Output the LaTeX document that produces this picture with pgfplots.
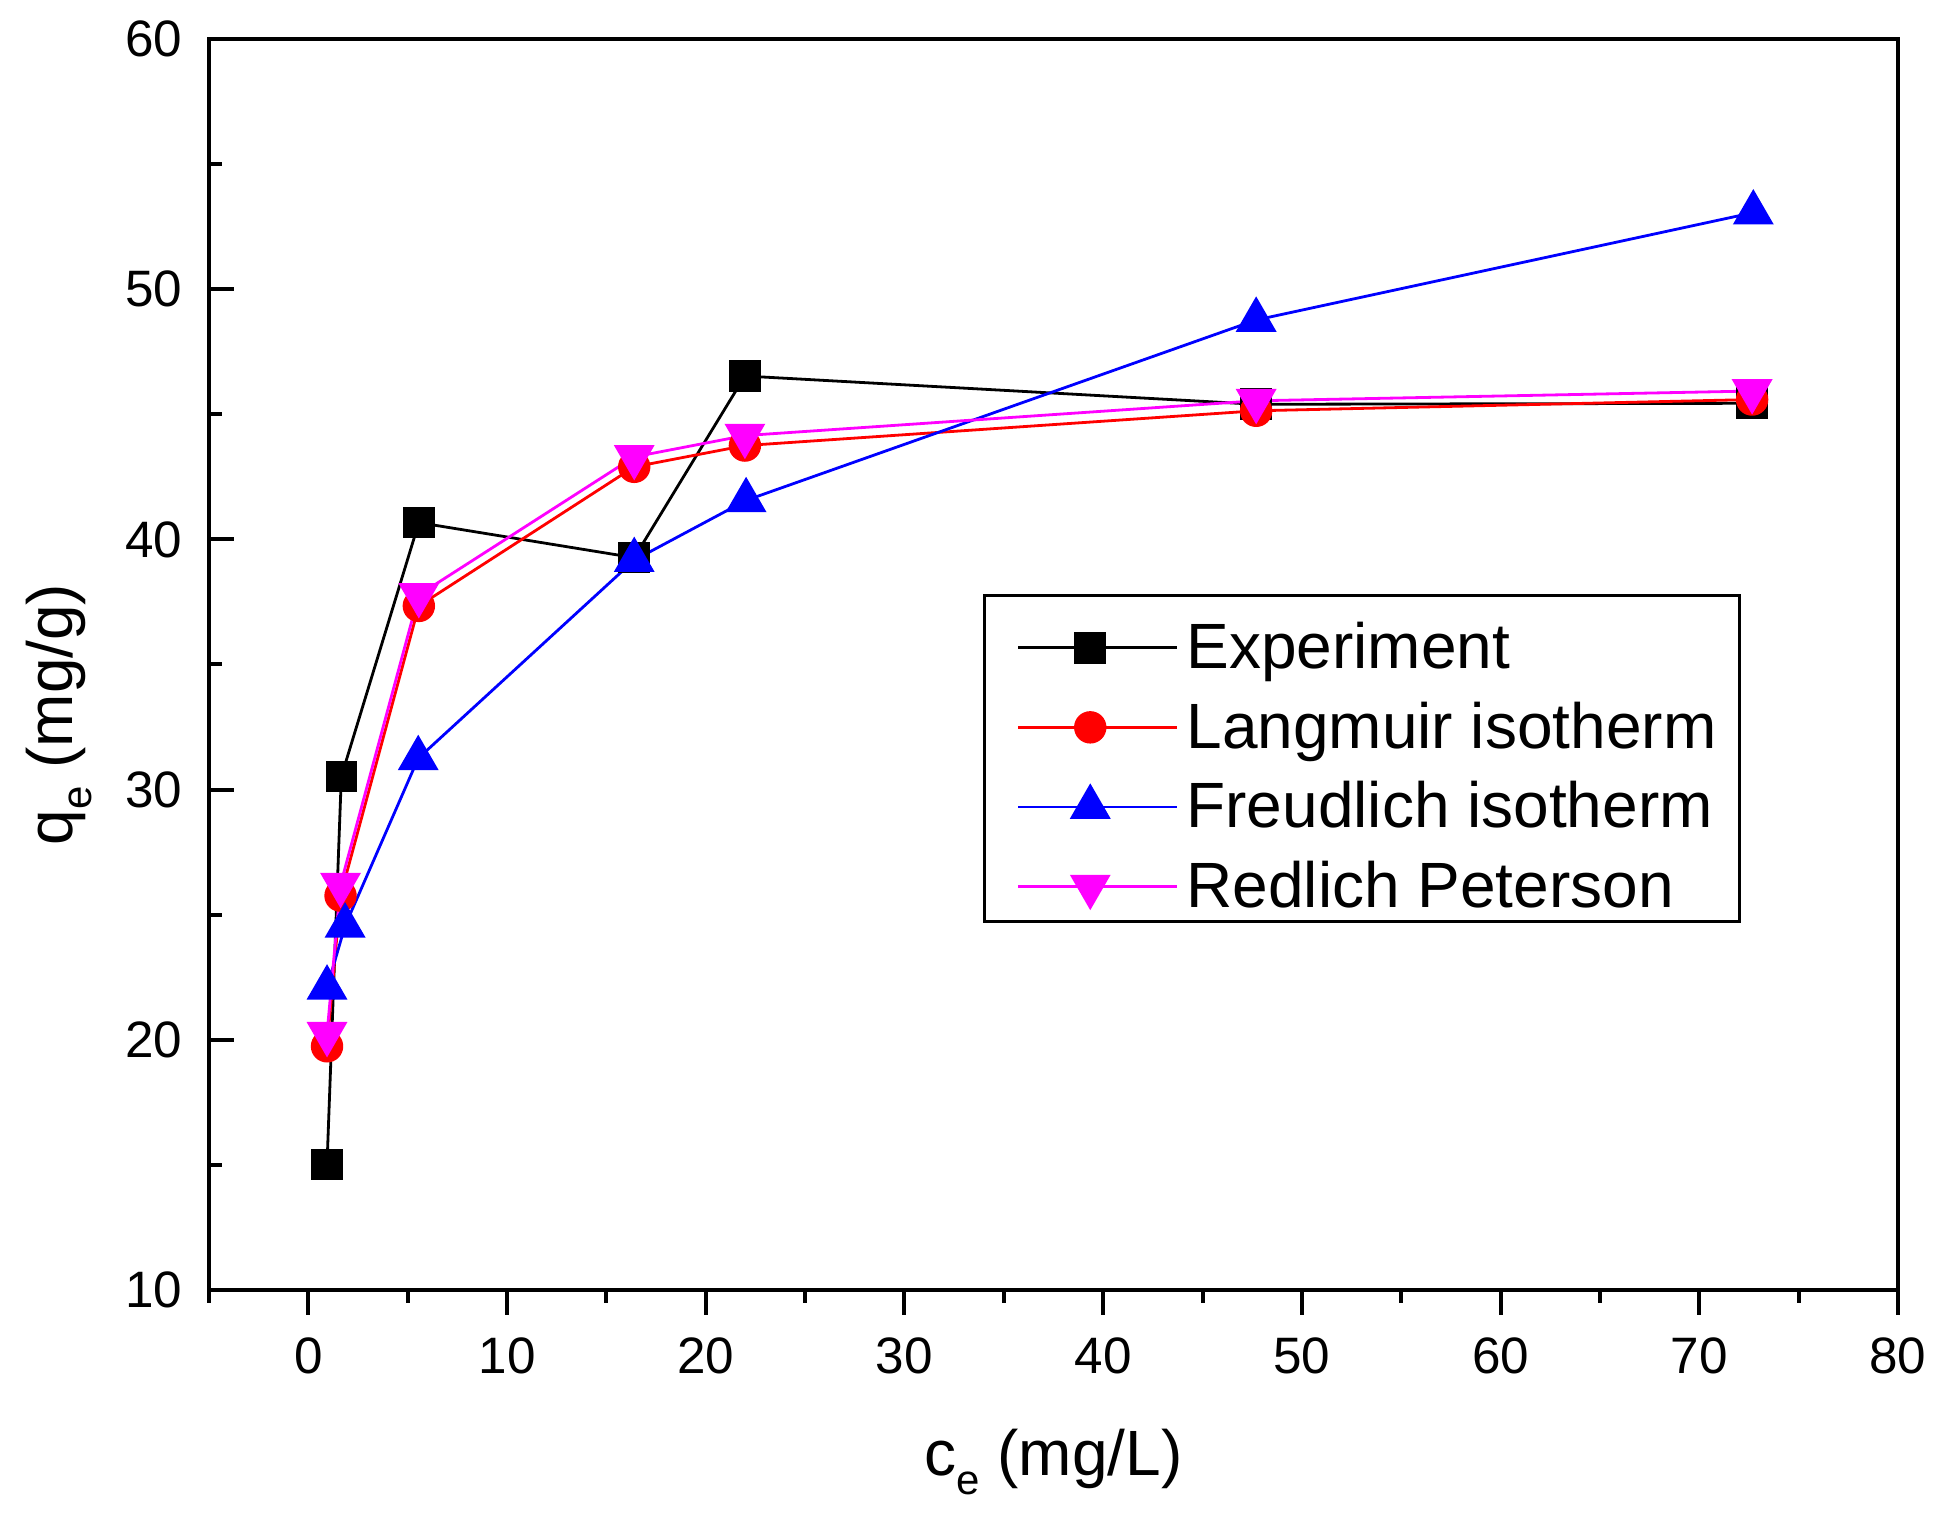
\documentclass[border=0pt]{standalone}
\usepackage{pgfplots}
\pgfplotsset{compat=1.18}
\usepackage{fontspec}
\setmainfont{Liberation Sans}
\definecolor{cred}{RGB}{255,0,0}
\definecolor{cblue}{RGB}{0,0,255}
\definecolor{cmag}{RGB}{255,0,255}
\newcommand\sub[1]{\raisebox{-4.8pt}{\fontsize{10.5}{12}\selectfont #1}}
\begin{document}
\begin{tikzpicture}
\useasboundingbox (-52.25pt,-56.75pt) rectangle (434.25pt,322.5pt);
\begin{axis}[
  scale only axis,
  width=422.25pt, height=312.75pt,
  xmin=-5, xmax=80, ymin=10, ymax=60,
  xtick={0,10,...,80}, ytick={10,20,...,60},
  minor xtick={-5,5,...,75}, minor ytick={15,25,...,55},
  xtick pos=left, ytick pos=left,
  xtick align=outside, ytick align=inside,
  major tick length=6.25pt, minor tick length=3.25pt,
  axis line style={line width=1pt},
  every tick/.style={line width=1pt, black},
  /pgf/number format/assume math mode=true,
  ticklabel style={font=\fontsize{12.8}{15}\selectfont},
  xticklabel style={yshift=-2.25pt},
  yticklabel style={xshift=-3.1pt},
  xlabel={c\sub{e} (mg/L)},
  ylabel={q\sub{e} (mg/g)},
  label style={font=\fontsize{16}{19}\selectfont},
  xlabel style={at={(axis description cs:0.5,-0.148)}, anchor=base},
  ylabel style={at={(axis description cs:-0.0811,0.46)}, anchor=base, rotate=0},
  legend style={at={(0.4589,0.5548)}, anchor=north west, draw=none, fill=none,
    font=\fontsize{16}{19}\selectfont, inner xsep=8pt, inner ysep=3pt, row sep=0.4pt,
    nodes={inner sep=2pt, text height=13pt, text depth=2.5pt}},
  legend cell align=left,
  legend image code/.code={\path (0pt,0pt) -- (39.7pt,0pt);\draw[mark repeat=2,mark phase=2,#1] plot coordinates {(0pt,0pt) (18pt,0pt) (36pt,0pt)};},
]
\addplot[black, line width=0.7pt, mark=square*, mark size=3.6pt, mark options={solid, fill=black}] coordinates {
(0.94,15.02) (1.66,30.52) (5.56,40.67) (16.4,39.27) (21.97,46.53) (47.7,45.4) (72.66,45.44)};
\addlegendentry{Experiment}
\addplot[cred, line width=0.7pt, mark=*, mark size=3.7pt, mark options={solid, fill=cred}] coordinates {
(0.94,19.74) (1.62,25.76) (5.56,37.34) (16.4,42.9) (21.97,43.75) (47.7,45.14) (72.66,45.59)};
\addlegendentry{Langmuir isotherm}
\addplot[cblue, line width=0.7pt, mark=triangle*, mark size=5.2pt, mark options={solid, fill=cblue}] coordinates {
(0.94,22.08) (1.85,24.56) (5.53,31.25) (16.4,39.17) (22.03,41.56) (47.7,48.77) (72.72,53.06)};
\addlegendentry{Freudlich isotherm}
\addplot[cmag, line width=0.7pt, mark=triangle*, mark size=5.2pt, mark options={solid, fill=cmag, rotate=180}] coordinates {
(0.94,20.24) (1.62,26.2) (5.56,37.78) (16.4,43.3) (21.97,44.15) (47.7,45.54) (72.66,45.93)};
\addlegendentry{Redlich Peterson}
\draw[line width=0.75pt] (rel axis cs:0.4589,0.5548) rectangle (rel axis cs:0.9059,0.2942);
\end{axis}
\end{tikzpicture}
\end{document}
